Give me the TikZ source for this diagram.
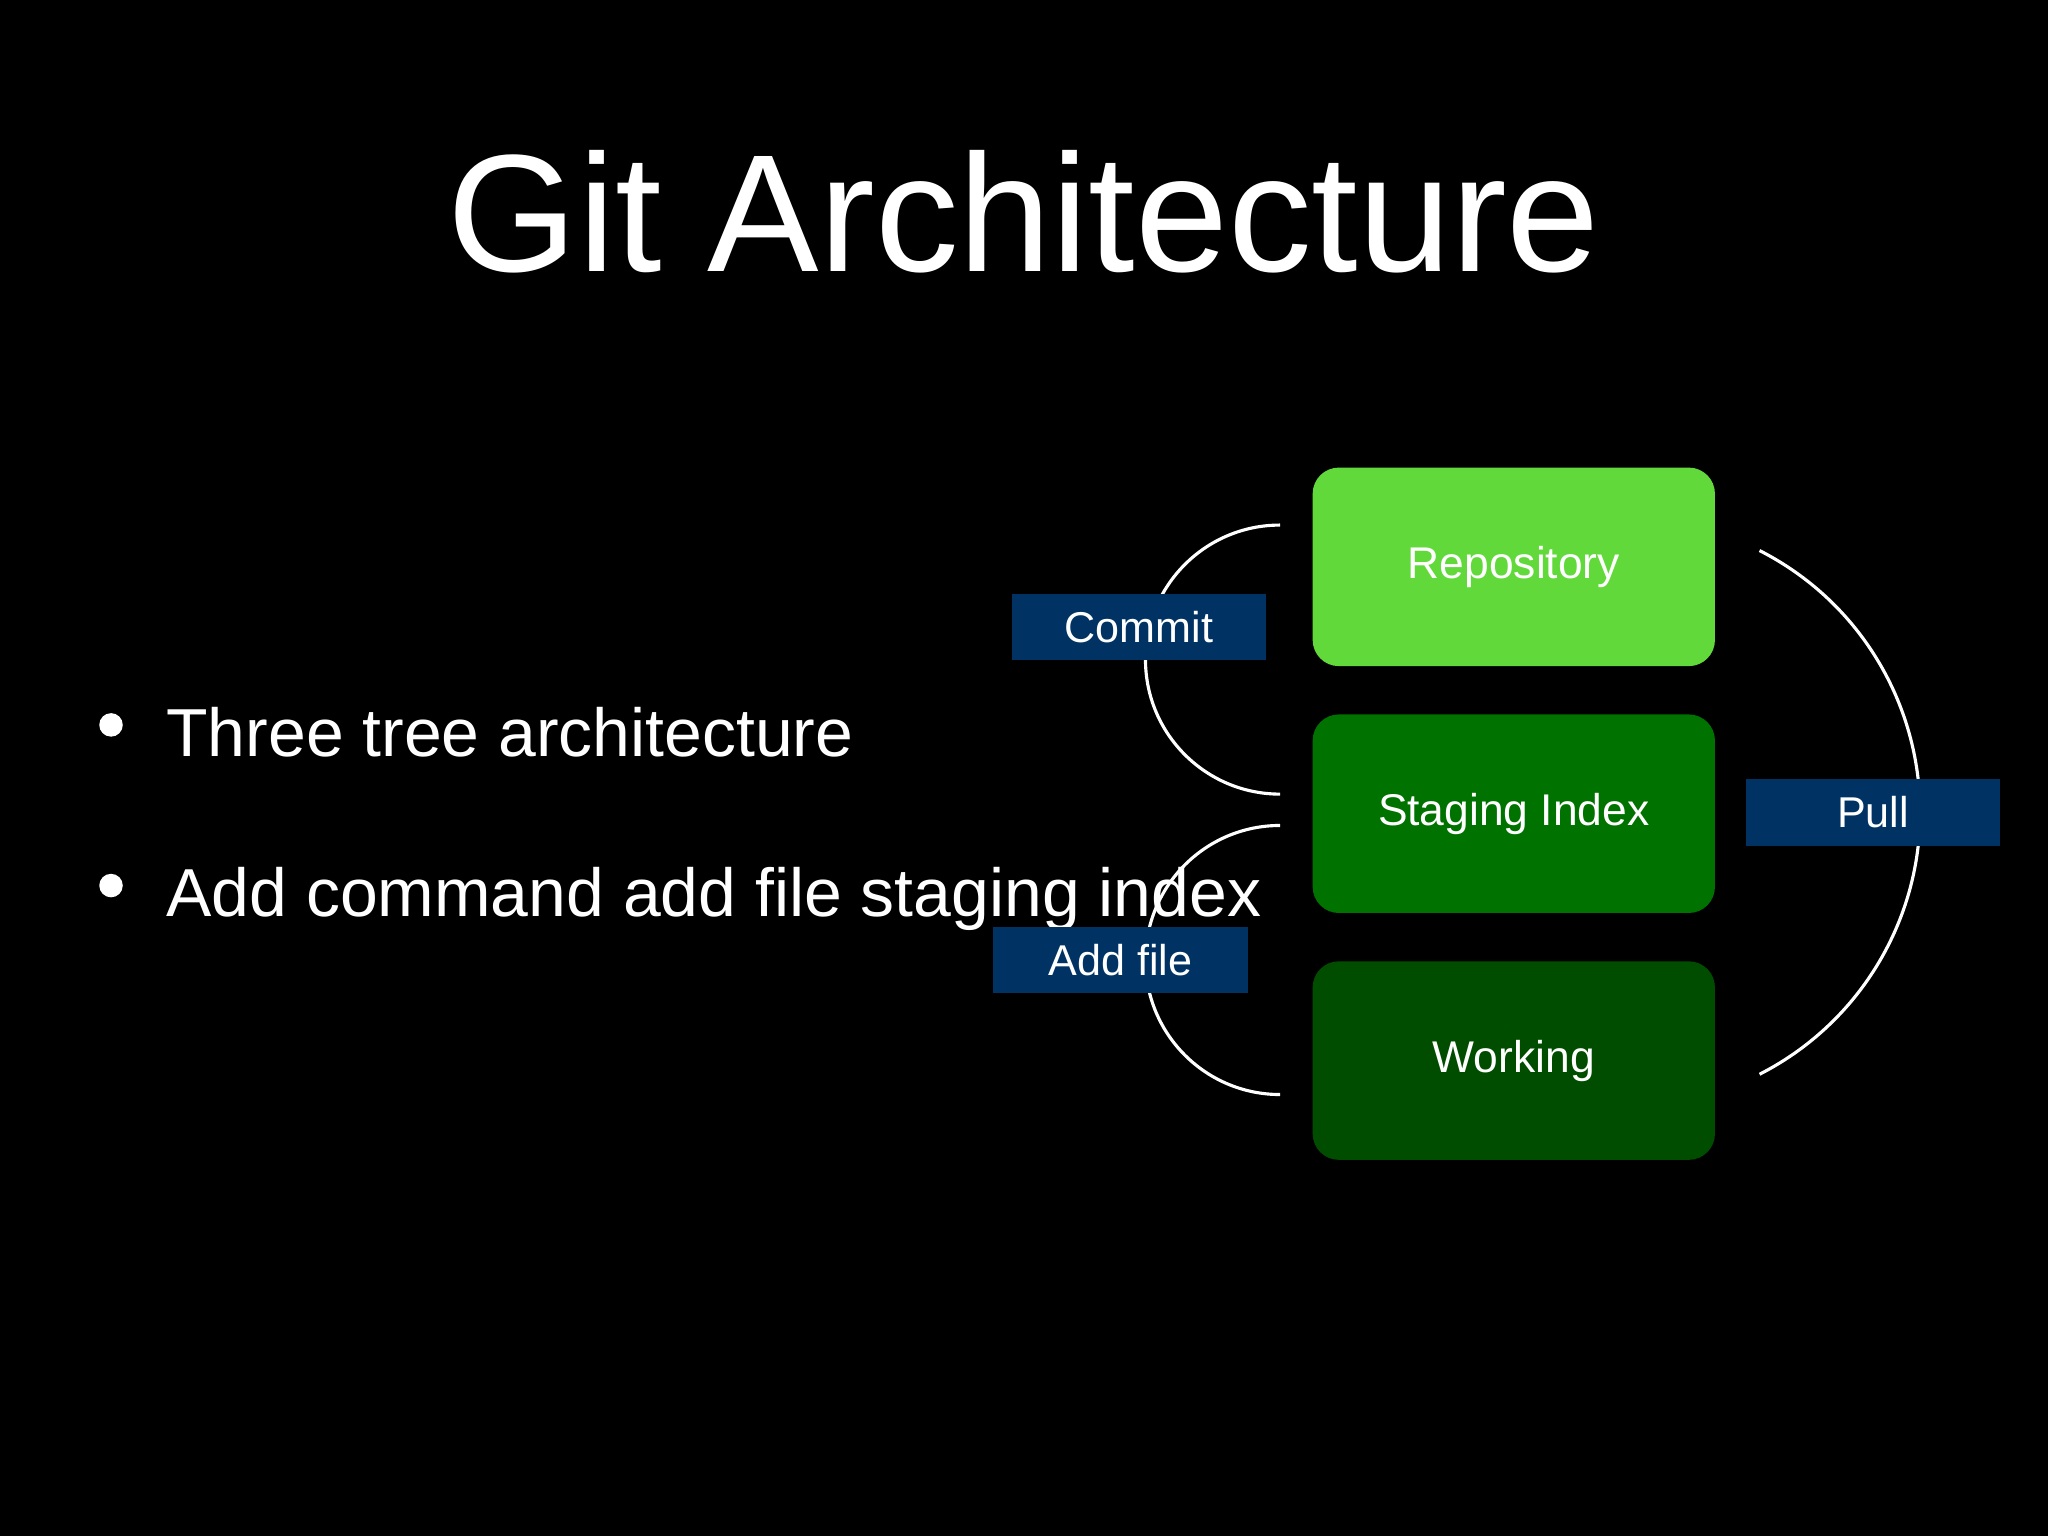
\documentclass[tikz,border=0pt]{standalone}
\usepackage{fontspec}
\setmainfont{Liberation Sans}
\begin{document}
\begin{tikzpicture}[x=0.5pt,y=-0.5pt,
  box/.style={draw=none,rounded corners=10pt,minimum width=154pt,minimum height=76pt,text=white,font=\fontsize{17}{20}\selectfont},
  tag/.style={fill=lbl,minimum width=97.5pt,minimum height=25.5pt,inner sep=0pt,text=white,font=\fontsize{16.5}{20}\selectfont},
  arcl/.style={draw=white,line width=1.2pt}]
\definecolor{lbl}{HTML}{003363}
\definecolor{g1}{HTML}{62D93B}
\definecolor{g2}{HTML}{007200}
\definecolor{g3}{HTML}{004D00}
\fill[black] (0,0) rectangle (1568,1176);
\useasboundingbox (0,0) rectangle (1568,1176);
\node[text=white,font=\fontsize{64}{70}\selectfont,anchor=base] (title) at (784,208) {Git Architecture};
\node[text=white,font=\fontsize{26}{30}\selectfont,anchor=base west,inner sep=0pt] (b1) at (127,579) {Three tree architecture};
\node[text=white,font=\fontsize{26}{30}\selectfont,anchor=base west,inner sep=0pt] (b2) at (127,702) {Add command add file staging index};
\fill[white] (85,555) circle (9);
\fill[white] (85,678) circle (9);
\node[box,fill=g1] (repo) at (1159,434) {Repository};
\node[box,fill=g2] (stage) at (1159,623) {Staging Index};
\node[box,fill=g3] (work) at (1159,812) {Working};
\coordinate (c1) at (980,505);
\coordinate (c2) at (980,735);
\coordinate (c3) at (1245,622);
\draw[arcl] (c1) ++(-90:103) arc (-90:-270:103);
\draw[arcl] (c2) ++(-90:103) arc (-90:-270:103);
\draw[arcl] (c3) ++(-63:225) arc (-63:63:225);
\node[tag] (commit) at (872,480) {Commit};
\node[tag] (add) at (858,735) {Add file};
\node[tag] (pull) at (1434,622) {Pull};
\end{tikzpicture}
\end{document}
